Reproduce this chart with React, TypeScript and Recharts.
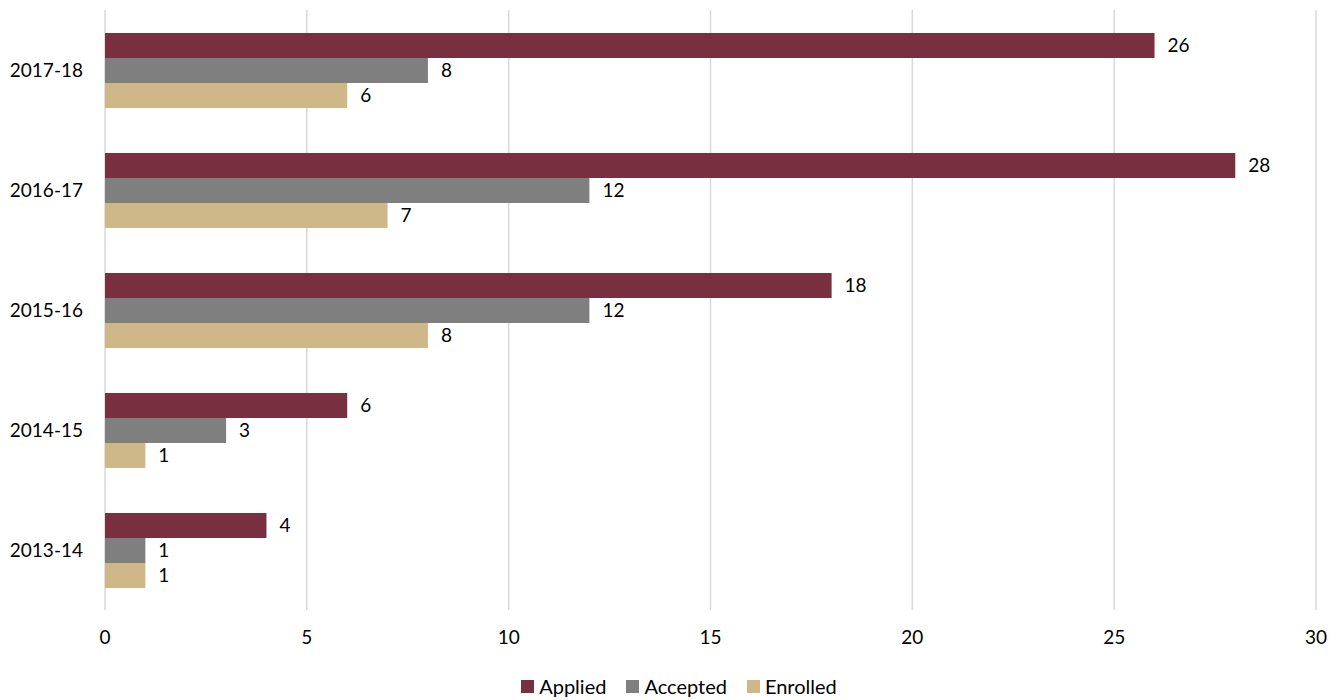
import { BarChart, Bar, XAxis, YAxis, CartesianGrid, Legend, LabelList } from "recharts";

document.body.style.margin = "0";

const years = ["2017-18", "2016-17", "2015-16", "2014-15", "2013-14"];
const applied = [26, 28, 18, 6, 4];
const accepted = [8, 12, 12, 3, 1];
const enrolled = [6, 7, 8, 1, 1];
const xTicks = [0, 5, 10, 15, 20, 25, 30];

const SERIES = [
  { key: "applied", name: "Applied", color: "#782F40" },
  { key: "accepted", name: "Accepted", color: "#7F7F7F" },
  { key: "enrolled", name: "Enrolled", color: "#CEB888" },
];

const FONT = "Lato, 'Open Sans', sans-serif";

const data = years.map((year, i) => ({
  year,
  applied: applied[i],
  accepted: accepted[i],
  enrolled: enrolled[i],
}));

const CustomLegend = () => (
  <div
    style={{
      height: 24,
      display: "flex",
      justifyContent: "center",
      alignItems: "center",
      paddingLeft: 42,
      fontFamily: FONT,
      fontSize: 20,
      color: "#000",
    }}
  >
    {SERIES.map((s) => (
      <span key={s.key} style={{ display: "flex", alignItems: "center", margin: "0 10px" }}>
        <span style={{ width: 13, height: 13, background: s.color, marginRight: 5 }} />
        {s.name}
      </span>
    ))}
  </div>
);

const App = () => {
  return (
    <BarChart
      width={1336}
      height={700}
      data={data}
      layout="vertical"
      margin={{ top: 10, right: 20, bottom: 2, left: 0 }}
      barGap={0}
      barSize={25}
    >
      <CartesianGrid horizontal={false} stroke="#D9D9D9" strokeWidth={1.5} />
      <XAxis
        type="number"
        domain={[0, 30]}
        ticks={xTicks}
        axisLine={false}
        tickLine={false}
        tickMargin={15}
        height={64}
        tick={{ fill: "#000", fontSize: 19, fontFamily: FONT }}
      />
      <YAxis
        type="category"
        dataKey="year"
        width={105}
        axisLine={false}
        tickLine={false}
        tickMargin={16}
        tick={{ fill: "#000", fontSize: 19, fontFamily: FONT }}
      />
      <Legend verticalAlign="bottom" content={CustomLegend} />
      {SERIES.map((s) => (
        <Bar key={s.key} dataKey={s.key} name={s.name} fill={s.color} isAnimationActive={false}>
          <LabelList
            dataKey={s.key}
            position="right"
            offset={13}
            fill="#000"
            fontSize={19}
            fontFamily={FONT}
          />
        </Bar>
      ))}
    </BarChart>
  );
};

export default App;
